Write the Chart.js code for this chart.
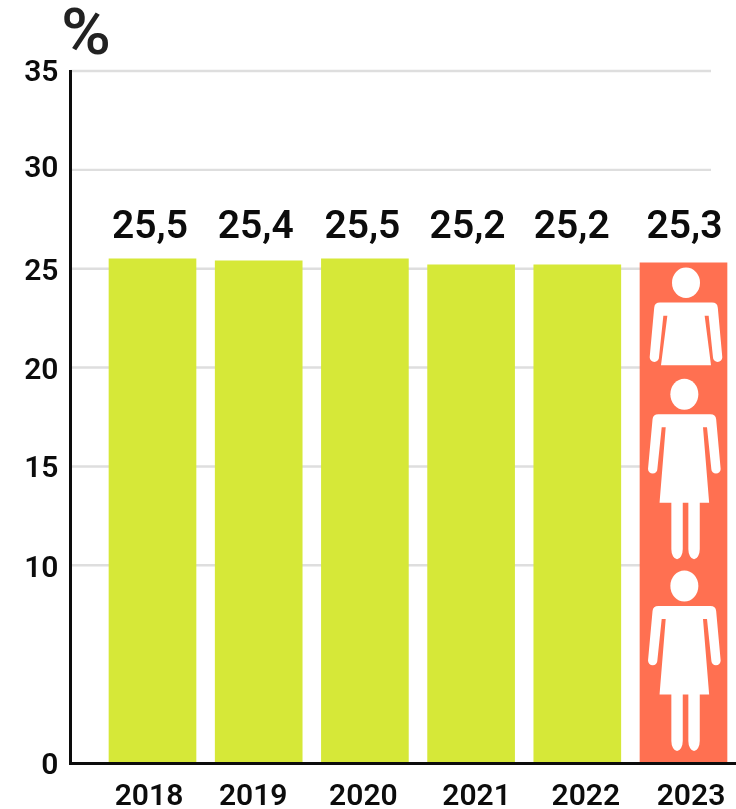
<!DOCTYPE html>
<html>
<head>
<meta charset="utf-8">
<style>html,body{margin:0;padding:0;background:#fff}canvas{display:block}</style>
<script src="https://cdn.jsdelivr.net/npm/chart.js@4"></script>
</head>
<body>
<canvas id="c" width="736" height="809"></canvas>
<script>
const years = [2018, 2019, 2020, 2021, 2022, 2023];
const values = [25.5, 25.4, 25.5, 25.2, 25.2, 25.3];
const yTicks = [0, 10, 15, 20, 25, 30, 35];
const gridValues = [10, 15, 20, 25, 30, 35];
const barColors = ['#D6E838', '#D6E838', '#D6E838', '#D6E838', '#D6E838', '#FF7051'];
const unitLabel = '%';

// hand placement nudges of the original's texts, in pixels
const yearNudge = [-3.5, -5.5, -1.5, 5.5, 8.5, 7.5];
const valueNudge = [-2.5, -3, -2.5, -3.5, -5.5, 1];
const yTickNudge = [3.5, 4.5, 3, 4, 4, -0.5, 2];
const FONT = 'Roboto, sans-serif';
const STEP_PX = 106.2;
const UNIT_PX = 692 / 35;

function figure(ctx, cx, cy, skirtY, skirtHalf, legs, ry) {
  ctx.save();
  ctx.translate(cx, cy);
  ctx.fillStyle = '#fff';
  ctx.beginPath();
  ctx.ellipse(0, 0, 14, ry, 0, 0, Math.PI * 2);
  ctx.fill();
  ctx.beginPath();
  ctx.moveTo(-26, 19.9);
  ctx.lineTo(26, 19.9);
  ctx.quadraticCurveTo(31.3, 19.9, 31.8, 25);
  ctx.lineTo(36.3, 74.6);
  ctx.arc(31.65, 74.6, 4.67, 0, Math.PI);
  ctx.lineTo(22.65, 33);
  ctx.lineTo(18.65, 33);
  ctx.lineTo(skirtHalf, skirtY);
  if (legs) {
    ctx.lineTo(15.4, skirtY);
    ctx.lineTo(15.4, 155);
    ctx.ellipse(9.7, 155, 5.7, 10, 0, 0, Math.PI);
    ctx.lineTo(4, skirtY);
    ctx.lineTo(-1.6, skirtY);
    ctx.lineTo(-1.6, 155);
    ctx.ellipse(-7.3, 155, 5.7, 10, 0, 0, Math.PI);
    ctx.lineTo(-13, skirtY);
  }
  ctx.lineTo(-skirtHalf, skirtY);
  ctx.lineTo(-18.65, 33);
  ctx.lineTo(-22.65, 33);
  ctx.lineTo(-27, 74.6);
  ctx.arc(-31.65, 74.6, 4.67, 0, Math.PI);
  ctx.lineTo(-31.8, 25);
  ctx.quadraticCurveTo(-31.3, 19.9, -26, 19.9);
  ctx.closePath();
  ctx.fill();
  ctx.restore();
}

const decor = {
  id: 'decor',
  beforeDatasetsDraw(chart) {
    const { ctx, scales: { y }, chartArea: a } = chart;
    ctx.save();
    ctx.strokeStyle = '#DEDEDE';
    ctx.lineWidth = 2.4;
    gridValues.forEach(v => {
      const p = y.getPixelForValue(v);
      ctx.beginPath();
      ctx.moveTo(a.left, p);
      ctx.lineTo(711, p);
      ctx.stroke();
    });
    ctx.restore();
  },
  afterDatasetsDraw(chart) {
    const { ctx, scales: { y }, chartArea: a } = chart;
    const bars = chart.getDatasetMeta(0).data;
    ctx.save();
    ctx.fillStyle = '#0C0C0C';
    ctx.font = '600 39px ' + FONT;
    ctx.textAlign = 'center';
    ctx.textBaseline = 'middle';
    values.forEach((v, i) => {
      ctx.fillText(v.toFixed(1).replace('.', ','), bars[i].x + valueNudge[i], y.getPixelForValue(27.05));
    });
    ctx.fillStyle = '#222';
    ctx.font = '500 64px ' + FONT;
    ctx.textAlign = 'left';
    ctx.translate(61, 38);
    ctx.scale(1.06, 1);
    ctx.fillText(unitLabel, 0, 0);
    ctx.restore();

    const last = bars[bars.length - 1];
    figure(ctx, last.x + 2.5, a.bottom - 480.3, 82.6, 25, false, 15.2);
    figure(ctx, last.x + 0.85, a.bottom - 368.7, 108.4, 24.8, true, 15.5);
    figure(ctx, last.x + 0.85, a.bottom - 177, 108.4, 24.8, true, 15.5);
  }
};

new Chart(document.getElementById('c'), {
  type: 'bar',
  data: {
    labels: years,
    datasets: [{
      data: values,
      backgroundColor: barColors,
      borderWidth: 0,
      barThickness: 87
    }]
  },
  plugins: [decor],
  options: {
    responsive: false,
    animation: false,
    events: [],
    layout: { padding: { top: 71, left: 0, right: 0, bottom: 0 } },
    plugins: { legend: { display: false }, tooltip: { enabled: false }, title: { display: false } },
    scales: {
      x: {
        type: 'linear',
        offset: false,
        min: years[0] - 82 / STEP_PX,
        max: years[0] + 583.5 / STEP_PX,
        grid: { display: false, drawTicks: false },
        border: { display: true, color: '#0C0C0C', width: 3, z: 1 },
        afterBuildTicks(s) {
          s.ticks = years.map((yr, i) => ({ value: yr + yearNudge[i] / STEP_PX }));
        },
        afterFit(s) { s.height = 46; s.paddingLeft = 0; s.paddingRight = 0; },
        ticks: {
          autoSkip: false, maxRotation: 0, minRotation: 0, padding: 16,
          color: '#0C0C0C',
          font: { family: FONT, size: 30, weight: 600 },
          callback: (v, i) => String(years[i])
        }
      },
      y: {
        min: 0,
        max: 35,
        grid: { display: false, drawTicks: false },
        border: { display: true, color: '#0C0C0C', width: 3, z: 1 },
        afterBuildTicks(s) { s.ticks = yTicks.map((v, i) => ({ value: v - yTickNudge[i] / UNIT_PX })); },
        afterFit(s) { s.width = 70.5; s.paddingTop = 0; s.paddingBottom = 0; },
        ticks: {
          autoSkip: false, padding: 12,
          color: '#0C0C0C',
          font: { family: FONT, size: 30, weight: 600 },
          callback: (v, i) => String(yTicks[i])
        }
      }
    }
  }
});
</script>
</body>
</html>
